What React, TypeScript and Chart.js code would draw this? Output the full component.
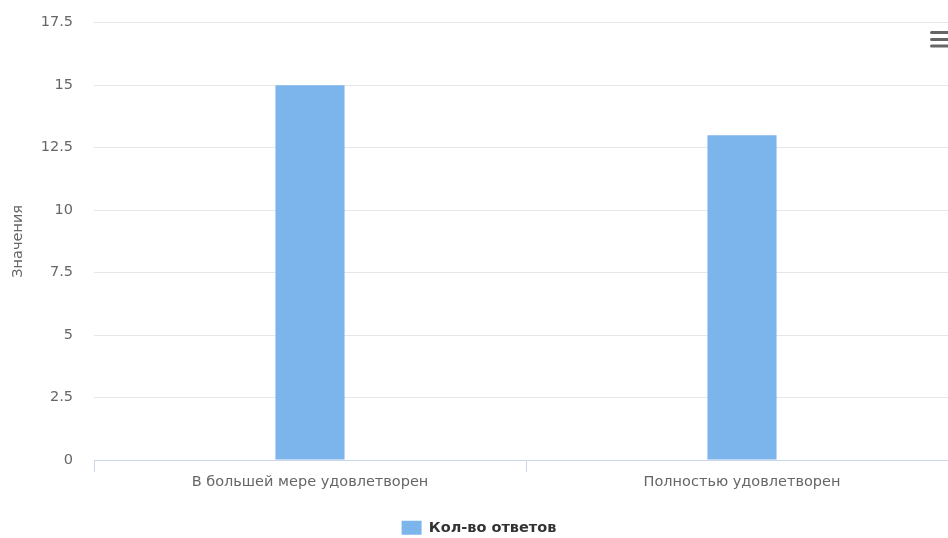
import React, { useEffect, useRef } from "react";
import { Chart, registerables } from "chart.js";

Chart.register(...registerables);

const categories = ["В большей мере удовлетворен", "Полностью удовлетворен"];
const seriesName = "Кол-во ответов";
const seriesValues = [15, 13];
const yTicks = [0, 2.5, 5, 7.5, 10, 12.5, 15, 17.5];
const yTitle = "Значения";

const FONT = "'DejaVu Sans', sans-serif";
const SHIFT = 7;

const menuIcon = {
  id: "menuIcon",
  afterDraw(chart: any) {
    const ctx = chart.ctx;
    ctx.save();
    ctx.strokeStyle = "#666666";
    ctx.lineWidth = 3;
    ctx.lineCap = "round";
    [32.5, 39.5, 46].forEach((y) => {
      ctx.beginPath();
      ctx.moveTo(931.5, y + SHIFT);
      ctx.lineTo(950, y + SHIFT);
      ctx.stroke();
    });
    ctx.restore();
  },
};

export default function App() {
  const ref = useRef<HTMLCanvasElement>(null);
  useEffect(() => {
    if (!ref.current) return;
    const chart = new Chart(ref.current, {
      type: "bar",
      data: {
        labels: categories,
        datasets: [
          {
            label: seriesName,
            data: seriesValues,
            backgroundColor: "#7cb5ec",
            borderWidth: 0,
            categoryPercentage: 0.8,
            barPercentage: 0.2,
          },
        ],
      },
      plugins: [menuIcon],
      options: {
        responsive: true,
        maintainAspectRatio: false,
        animation: false,
        layout: { padding: { top: 15, left: 0, right: 0, bottom: 0 } },
        plugins: {
          tooltip: { enabled: false },
          legend: {
            position: "bottom",
            labels: {
              boxWidth: 20,
              boxHeight: 14,
              padding: 3,
              color: "#333333",
              font: { family: FONT, size: 14.5, weight: "bold" },
            },
          },
        },
        scales: {
          x: {
            afterFit: (s: any) => {
              s.height = 57.5;
            },
            grid: {
              display: true,
              drawOnChartArea: false,
              drawTicks: true,
              tickLength: 12,
              color: "#ccd6eb",
              offset: true,
            },
            border: { display: true, color: "#ccd6eb", width: 1 },
            ticks: {
              color: "#666666",
              padding: 2,
              maxRotation: 0,
              font: { family: FONT, size: 14.5 },
            },
          },
          y: {
            min: 0,
            max: 17.5,
            afterFit: (s: any) => {
              s.width = 94;
            },
            afterBuildTicks: (s: any) => {
              s.ticks = yTicks.map((v) => ({ value: v }));
            },
            grid: { color: "#e6e6e6", drawTicks: false },
            border: { display: false },
            ticks: {
              color: "#666666",
              padding: 21,
              font: { family: FONT, size: 14.5 },
            },
            title: {
              display: true,
              text: yTitle,
              color: "#666666",
              padding: { top: 10, bottom: 0 },
              font: { family: FONT, size: 14.5 },
            },
          },
        },
      },
    });
    return () => chart.destroy();
  }, []);
  return (
    <div
      style={{
        position: "absolute",
        left: 0,
        top: 0,
        width: 948,
        height: 538,
        overflow: "hidden",
        background: "#ffffff",
      }}
    >
      <div
        style={{
          position: "relative",
          top: -SHIFT,
          width: 958,
          height: 545 + SHIFT,
        }}
      >
        <canvas ref={ref} />
      </div>
    </div>
  );
}
